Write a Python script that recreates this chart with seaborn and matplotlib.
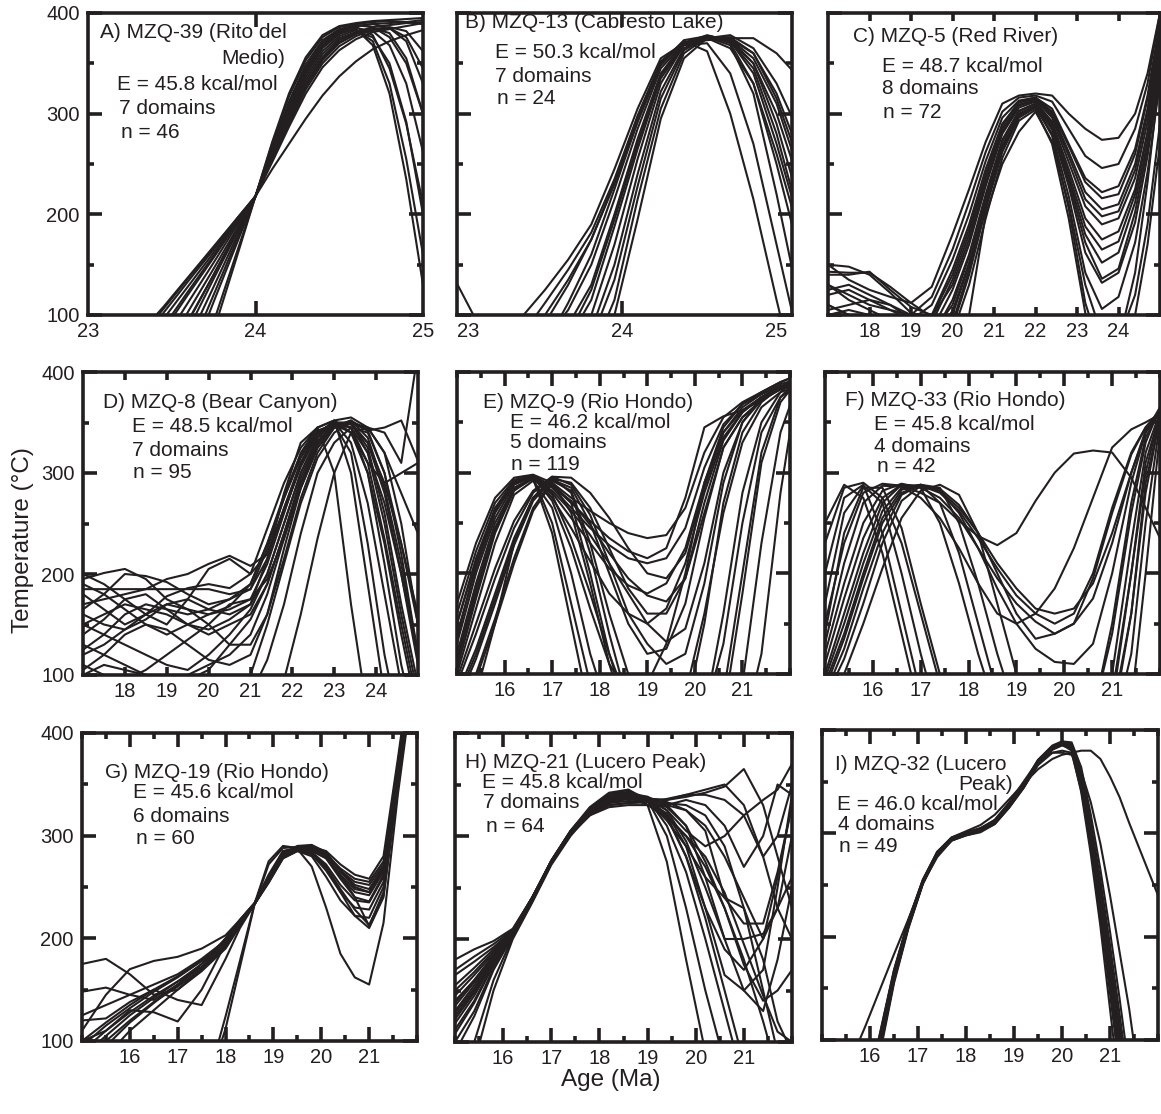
import numpy as np
import pandas as pd
import matplotlib
matplotlib.use("Agg")
import matplotlib.pyplot as plt
import seaborn as sns
from matplotlib.ticker import FixedLocator, MultipleLocator, FixedFormatter, NullFormatter

# ---------------- data ----------------
AGE_A = [23.3, 23.45, 23.6, 23.75, 23.9, 24.0, 24.1, 24.2, 24.3, 24.4, 24.5, 24.6, 24.7, 24.8, 24.9, 25.0, 25.1]
TEMP_A = [
    [0, 0, 0, 84, 164, 218, 272, 320, 356, 378, 387, 390, 392, 393, 394, 395, 396],
    [0, 0, 0, 93, 168, 218, 270, 317, 353, 376, 386, 389, 391, 392, 391, 389, 387],
    [0, 0, 49, 113, 176, 218, 266, 312, 349, 373, 384, 388, 386, 376, 350, 300, 240],
    [0, 0, 61, 120, 179, 218, 265, 310, 346, 371, 383, 386, 378, 345, 290, 210, 120],
    [0, 20, 86, 136, 185, 218, 263, 306, 342, 368, 381, 387, 389, 390, 391, 393, 395],
    [0, 47, 94, 140, 187, 218, 261, 303, 339, 365, 379, 385, 382, 368, 330, 262, 185],
    [0, 60, 104, 146, 189, 218, 259, 300, 336, 362, 377, 383, 372, 330, 255, 160, 60],
    [0, 74, 113, 152, 192, 218, 258, 298, 333, 359, 375, 381, 376, 350, 292, 200, 100],
    [20, 84, 121, 157, 194, 218, 256, 295, 330, 356, 373, 381, 386, 388, 390, 391, 392],
    [62, 96, 129, 162, 196, 218, 255, 293, 327, 353, 370, 379, 384, 386, 382, 362, 325],
    [70, 102, 134, 165, 197, 218, 254, 290, 324, 350, 367, 377, 383, 385, 376, 345, 295],
    [76, 106, 137, 167, 198, 218, 252, 287, 320, 346, 363, 374, 381, 384, 387, 390, 392],
    [80, 108, 138, 168, 198, 218, 245, 270, 295, 318, 337, 352, 364, 372, 378, 383, 387],
    [0, 40, 95, 140, 187, 218, 262, 305, 341, 367, 380, 384, 368, 320, 235, 130, 30],
    [0, 10, 75, 128, 182, 218, 264, 308, 344, 370, 382, 387, 389, 385, 372, 330, 270],
    [30, 88, 124, 159, 195, 218, 256, 294, 328, 354, 371, 380, 385, 380, 355, 300, 220],
]

AGE_B = [22.9, 23.05, 23.2, 23.35, 23.5, 23.65, 23.8, 23.95, 24.1, 24.25, 24.4, 24.55, 24.7, 24.85, 25.0, 25.15]
TEMP_B = [
    [140, 96, 80, 98, 125, 155, 190, 245, 305, 355, 370, 373, 375, 375, 360, 335],
    [0, 0, 0, 80, 112, 145, 182, 235, 298, 352, 371, 376, 372, 350, 300, 230],
    [0, 0, 0, 60, 92, 130, 175, 232, 297, 350, 370, 375, 365, 330, 260, 180],
    [0, 0, 0, 30, 75, 105, 150, 215, 285, 345, 370, 377, 374, 360, 320, 260],
    [0, 0, 0, 0, 50, 90, 130, 200, 275, 340, 370, 378, 372, 340, 270, 190],
    [0, 0, 0, 0, 30, 60, 100, 170, 255, 330, 368, 377, 370, 330, 250, 160],
    [0, 0, 0, 0, 20, 50, 85, 150, 240, 322, 365, 376, 376, 360, 315, 250],
    [0, 0, 0, 0, 0, 30, 60, 115, 215, 305, 360, 376, 368, 320, 220, 110],
    [0, 0, 0, 0, 0, 20, 50, 100, 195, 295, 355, 375, 378, 365, 330, 280],
    [0, 0, 0, 50, 70, 112, 160, 225, 292, 348, 372, 362, 300, 215, 115, 20],
    [0, 0, 0, 20, 50, 75, 115, 188, 265, 335, 368, 370, 340, 270, 170, 70],
    [0, 0, 0, 70, 100, 135, 175, 230, 292, 350, 373, 377, 374, 355, 310, 240],
    [0, 0, 0, 0, 40, 80, 125, 195, 270, 338, 369, 377, 374, 350, 290, 210],
    [0, 0, 0, 0, 10, 40, 75, 135, 228, 315, 363, 376, 372, 345, 280, 195],
]

AGE_C = [17.0, 17.5, 18.0, 18.5, 19.0, 19.5, 20.0, 20.4, 20.8, 21.2, 21.6, 22.0, 22.4, 22.8, 23.2, 23.6, 24.0, 24.4, 24.7, 25.0]
TEMP_C = [
    [150, 135, 125, 118, 112, 128, 180, 225, 272, 310, 318, 320, 318, 300, 285, 274, 276, 300, 340, 400],
    [130, 120, 110, 105, 100, 118, 165, 212, 262, 302, 316, 318, 312, 285, 258, 246, 250, 285, 330, 400],
    [110, 100, 95, 100, 95, 110, 155, 200, 253, 296, 313, 316, 305, 270, 236, 222, 228, 265, 318, 392],
    [140, 140, 143, 125, 108, 100, 145, 190, 245, 290, 311, 315, 300, 262, 222, 205, 210, 250, 305, 382],
    [100, 90, 90, 95, 82, 92, 135, 180, 237, 285, 309, 314, 296, 252, 208, 190, 196, 236, 292, 372],
    [120, 125, 115, 105, 95, 85, 125, 170, 228, 280, 306, 312, 292, 245, 196, 175, 183, 225, 282, 362],
    [100, 105, 100, 90, 82, 78, 115, 160, 220, 274, 303, 310, 288, 236, 180, 152, 162, 212, 272, 352],
    [130, 115, 105, 95, 85, 72, 100, 150, 212, 268, 300, 308, 284, 228, 162, 132, 142, 192, 258, 342],
    [110, 100, 90, 85, 75, 62, 88, 140, 205, 262, 296, 306, 280, 218, 142, 106, 118, 172, 242, 332],
    [90, 85, 80, 75, 70, 60, 70, 100, 200, 250, 282, 302, 272, 210, 130, 80, 75, 120, 190, 290],
    [100, 95, 90, 85, 80, 72, 92, 145, 208, 265, 298, 307, 278, 206, 112, 60, 72, 142, 232, 342],
    [95, 90, 85, 80, 75, 66, 82, 130, 196, 256, 293, 304, 270, 196, 102, 40, 50, 100, 170, 270],
    [150, 148, 140, 122, 102, 98, 140, 185, 240, 288, 312, 316, 302, 268, 232, 216, 220, 260, 315, 386],
    [105, 110, 115, 110, 100, 82, 110, 158, 216, 272, 302, 310, 290, 240, 188, 165, 173, 220, 280, 366],
    [125, 130, 120, 110, 96, 76, 104, 152, 210, 266, 299, 308, 286, 232, 172, 136, 146, 202, 266, 350],
    [143, 142, 142, 128, 112, 98, 130, 175, 232, 282, 308, 313, 298, 258, 215, 198, 203, 244, 300, 378],
]

AGE_D = [17.0, 17.5, 18.0, 18.5, 19.0, 19.5, 20.0, 20.5, 21.0, 21.4, 21.8, 22.2, 22.6, 23.0, 23.4, 23.8, 24.2, 24.6, 25.0]
TEMP_D = [
    [195, 201, 205, 195, 175, 165, 160, 168, 190, 230, 275, 315, 340, 350, 345, 320, 270, 200, 120],
    [180, 165, 150, 160, 178, 186, 190, 186, 200, 245, 290, 325, 345, 352, 340, 300, 230, 140, 60],
    [150, 140, 130, 120, 110, 105, 120, 140, 165, 200, 250, 300, 335, 350, 348, 330, 290, 230, 160],
    [120, 130, 145, 160, 170, 165, 150, 130, 130, 160, 215, 275, 320, 345, 350, 320, 250, 160, 80],
    [100, 110, 105, 100, 95, 100, 110, 120, 140, 180, 235, 290, 330, 348, 345, 310, 235, 150, 70],
    [170, 175, 180, 185, 195, 200, 210, 218, 208, 220, 262, 306, 338, 352, 355, 345, 320, 280, 240],
    [130, 120, 110, 100, 90, 95, 105, 130, 155, 190, 240, 290, 328, 346, 352, 335, 285, 210, 120],
    [190, 180, 165, 150, 140, 150, 160, 165, 175, 210, 260, 310, 340, 350, 330, 270, 180, 90, 40],
    [140, 155, 175, 180, 165, 150, 140, 150, 160, 190, 240, 295, 332, 348, 350, 342, 345, 352, 312],
    [110, 100, 95, 105, 120, 135, 150, 170, 175, 195, 235, 285, 325, 345, 352, 342, 300, 230, 150],
    [100, 95, 90, 85, 80, 75, 70, 75, 100, 150, 210, 270, 315, 340, 350, 330, 280, 200, 110],
    [90, 85, 80, 75, 70, 70, 70, 70, 80, 115, 170, 240, 300, 330, 345, 340, 300, 220, 120],
    [160, 150, 145, 155, 170, 175, 165, 160, 170, 200, 250, 300, 335, 350, 345, 300, 210, 110, 40],
    [125, 140, 160, 170, 165, 160, 165, 175, 185, 215, 265, 310, 340, 350, 350, 345, 340, 310, 420],
    [200, 190, 175, 160, 150, 175, 205, 215, 200, 220, 265, 310, 338, 348, 340, 310, 290, 300, 310],
    [105, 120, 140, 150, 145, 130, 115, 110, 120, 160, 225, 285, 325, 345, 350, 325, 260, 170, 90],
    [150, 160, 170, 165, 160, 150, 145, 155, 170, 215, 280, 330, 345, 300, 170, 60, 40, 40, 40],
    [100, 90, 85, 80, 75, 70, 70, 70, 70, 75, 95, 160, 235, 300, 340, 345, 320, 250, 150],
    [185, 185, 185, 185, 185, 185, 185, 180, 185, 225, 275, 320, 345, 352, 300, 190, 80, 40, 40],
    [165, 180, 200, 198, 192, 180, 170, 175, 190, 230, 278, 318, 342, 348, 320, 230, 120, 40, 40],
]

AGE_E = [15.0, 15.4, 15.8, 16.2, 16.6, 17.0, 17.4, 17.8, 18.2, 18.6, 19.0, 19.4, 19.8, 20.2, 20.6, 21.0, 21.4, 21.8, 22.1]
TEMP_E = [
    [170, 230, 275, 295, 298, 290, 275, 262, 250, 240, 235, 238, 265, 320, 355, 370, 380, 390, 395],
    [150, 215, 265, 292, 297, 285, 265, 245, 228, 215, 210, 215, 245, 305, 348, 368, 378, 388, 392],
    [130, 200, 255, 288, 296, 280, 255, 230, 205, 188, 180, 190, 225, 290, 340, 362, 375, 385, 390],
    [115, 185, 245, 285, 295, 275, 245, 212, 180, 160, 150, 165, 210, 280, 335, 360, 375, 383, 388],
    [140, 205, 260, 290, 295, 250, 170, 90, 40, 40, 40, 40, 60, 150, 270, 340, 370, 385, 390],
    [120, 190, 250, 285, 294, 240, 150, 60, 30, 30, 30, 30, 30, 60, 160, 280, 350, 380, 392],
    [100, 165, 230, 278, 292, 265, 200, 120, 60, 40, 40, 40, 40, 40, 80, 200, 320, 375, 390],
    [90, 140, 195, 245, 280, 296, 295, 280, 255, 225, 200, 195, 220, 285, 340, 365, 378, 386, 390],
    [80, 125, 180, 235, 275, 294, 290, 265, 225, 185, 160, 160, 195, 270, 332, 360, 375, 385, 388],
    [70, 115, 170, 228, 272, 293, 285, 250, 200, 150, 120, 125, 170, 255, 325, 355, 372, 383, 386],
    [60, 100, 155, 215, 265, 292, 282, 230, 160, 100, 70, 60, 80, 160, 260, 330, 365, 380, 385],
    [60, 95, 150, 210, 262, 290, 270, 200, 120, 60, 40, 40, 40, 60, 130, 250, 340, 375, 385],
    [40, 80, 150, 230, 275, 290, 260, 190, 110, 50, 40, 40, 40, 40, 40, 90, 230, 340, 380],
    [105, 175, 240, 282, 295, 282, 262, 238, 210, 180, 150, 132, 145, 210, 300, 350, 372, 383, 388],
    [135, 210, 262, 290, 296, 278, 235, 180, 120, 70, 40, 40, 40, 40, 40, 40, 120, 280, 370],
    [160, 222, 270, 293, 297, 287, 270, 252, 235, 222, 215, 225, 275, 345, 356, 362, 372, 385, 392],
    [110, 180, 242, 283, 294, 286, 272, 248, 220, 195, 178, 172, 195, 260, 325, 355, 372, 383, 388],
    [75, 120, 175, 232, 275, 295, 280, 220, 140, 70, 40, 40, 40, 40, 60, 180, 310, 370, 388],
    [150, 212, 262, 290, 296, 272, 225, 165, 110, 80, 90, 130, 200, 290, 345, 368, 380, 390, 396],
    [95, 150, 205, 252, 282, 296, 288, 258, 210, 160, 130, 110, 120, 190, 290, 350, 375, 386, 390],
]

AGE_F = [15.0, 15.4, 15.8, 16.2, 16.6, 17.0, 17.4, 17.8, 18.2, 18.6, 19.0, 19.4, 19.8, 20.2, 20.6, 21.0, 21.4, 21.7, 22.0]
TEMP_F = [
    [200, 275, 288, 240, 160, 80, 40, 40, 40, 40, 40, 40, 40, 40, 40, 80, 200, 300, 360],
    [170, 260, 287, 270, 200, 120, 50, 40, 40, 40, 40, 40, 40, 40, 40, 60, 160, 280, 355],
    [140, 240, 285, 285, 245, 170, 100, 40, 40, 40, 40, 40, 40, 40, 60, 140, 260, 330, 365],
    [230, 285, 290, 275, 230, 160, 90, 40, 40, 40, 40, 40, 40, 40, 40, 40, 120, 250, 350],
    [100, 160, 220, 270, 288, 285, 250, 190, 120, 60, 40, 40, 40, 40, 60, 150, 270, 335, 362],
    [90, 140, 200, 255, 283, 288, 270, 220, 150, 80, 40, 40, 40, 40, 40, 100, 230, 320, 360],
    [80, 125, 185, 240, 278, 288, 285, 250, 190, 120, 60, 40, 40, 40, 40, 70, 200, 310, 358],
    [110, 175, 235, 275, 288, 287, 280, 262, 235, 205, 178, 160, 150, 160, 200, 265, 320, 345, 360],
    [120, 190, 250, 282, 289, 285, 275, 255, 225, 195, 170, 152, 140, 150, 195, 260, 318, 345, 362],
    [95, 150, 210, 262, 285, 288, 282, 265, 240, 210, 185, 165, 160, 165, 190, 240, 300, 340, 360],
    [85, 135, 195, 250, 280, 287, 282, 260, 225, 185, 150, 125, 112, 110, 130, 200, 290, 340, 365],
    [150, 230, 280, 289, 287, 280, 270, 252, 237, 228, 240, 272, 300, 319, 322, 320, 295, 265, 235],
    [130, 210, 270, 287, 286, 275, 255, 225, 190, 160, 150, 160, 185, 225, 275, 325, 343, 350, 358],
    [75, 115, 170, 230, 272, 287, 284, 268, 240, 200, 160, 135, 140, 150, 175, 230, 300, 342, 360],
    [250, 288, 275, 220, 140, 60, 40, 40, 40, 40, 40, 40, 40, 40, 40, 40, 70, 200, 340],
    [60, 100, 150, 205, 255, 282, 288, 278, 240, 170, 100, 40, 40, 40, 40, 50, 160, 290, 355],
]

AGE_G = [15.0, 15.5, 16.0, 16.5, 17.0, 17.5, 18.0, 18.3, 18.6, 18.9, 19.2, 19.5, 19.8, 20.1, 20.4, 20.7, 21.0, 21.3, 21.6, 21.9]
TEMP_G = [
    [175, 180, 165, 145, 150, 170, 200, 218, 234, 262, 285, 288, 287, 282, 268, 258, 255, 275, 370, 470],
    [148, 152, 145, 140, 155, 175, 200, 218, 234, 260, 283, 287, 289, 285, 272, 262, 258, 280, 375, 475],
    [125, 135, 145, 155, 165, 180, 198, 216, 233, 258, 282, 288, 290, 283, 266, 252, 248, 270, 368, 468],
    [100, 118, 135, 150, 163, 178, 196, 215, 233, 257, 281, 287, 286, 278, 260, 245, 242, 265, 362, 462],
    [85, 105, 125, 142, 158, 175, 194, 214, 233, 256, 280, 286, 284, 272, 252, 237, 235, 260, 358, 458],
    [70, 95, 118, 137, 155, 172, 192, 213, 233, 255, 279, 286, 282, 266, 245, 230, 228, 255, 355, 455],
    [60, 85, 110, 130, 150, 168, 190, 212, 233, 254, 278, 285, 280, 260, 237, 222, 220, 250, 350, 450],
    [95, 115, 132, 148, 162, 178, 196, 215, 233, 260, 285, 287, 270, 230, 185, 162, 155, 215, 340, 445],
    [40, 40, 40, 40, 40, 40, 124, 178, 233, 275, 290, 288, 285, 278, 258, 240, 236, 262, 362, 462],
    [40, 40, 40, 40, 40, 40, 112, 172, 232, 272, 288, 289, 288, 280, 262, 248, 245, 268, 366, 466],
    [100, 110, 130, 128, 119, 150, 195, 214, 233, 258, 283, 290, 291, 284, 265, 250, 245, 268, 365, 465],
    [110, 145, 170, 178, 182, 190, 203, 218, 234, 259, 282, 287, 287, 280, 262, 240, 212, 245, 352, 452],
    [80, 100, 120, 138, 153, 170, 192, 213, 233, 256, 280, 286, 282, 268, 245, 222, 210, 240, 348, 448],
    [90, 110, 128, 144, 158, 172, 193, 214, 233, 255, 278, 285, 283, 270, 248, 228, 213, 242, 350, 450],
    [120, 122, 138, 150, 140, 135, 180, 210, 233, 257, 281, 288, 290, 282, 266, 255, 252, 272, 370, 470],
]

AGE_H = [15.0, 15.4, 15.8, 16.2, 16.6, 17.0, 17.4, 17.8, 18.2, 18.6, 19.0, 19.4, 19.8, 20.2, 20.6, 21.0, 21.4, 21.7, 22.0]
TEMP_H = [
    [180, 190, 198, 210, 240, 275, 303, 325, 338, 342, 338, 320, 280, 220, 150, 80, 40, 40, 40],
    [165, 178, 192, 208, 240, 275, 303, 325, 340, 345, 335, 300, 230, 150, 80, 40, 40, 40, 40],
    [150, 168, 188, 207, 240, 276, 305, 328, 342, 345, 330, 275, 180, 90, 40, 40, 40, 40, 40],
    [140, 160, 184, 206, 239, 276, 305, 326, 338, 338, 330, 318, 300, 270, 230, 180, 120, 70, 40],
    [125, 150, 180, 205, 238, 275, 304, 324, 334, 336, 336, 335, 338, 342, 348, 365, 330, 280, 230],
    [112, 140, 176, 204, 238, 275, 303, 322, 330, 332, 333, 336, 340, 340, 335, 320, 280, 230, 200],
    [100, 130, 172, 203, 237, 274, 302, 320, 328, 330, 330, 330, 325, 310, 280, 240, 200, 230, 300],
    [60, 100, 160, 202, 236, 273, 301, 320, 332, 337, 337, 325, 295, 250, 200, 150, 130, 180, 250],
    [40, 80, 150, 200, 235, 272, 300, 322, 336, 340, 338, 330, 310, 275, 230, 175, 140, 150, 170],
    [170, 183, 195, 209, 240, 275, 304, 326, 340, 343, 336, 310, 265, 200, 130, 60, 40, 40, 40],
    [130, 155, 182, 206, 239, 276, 304, 326, 338, 340, 336, 325, 305, 290, 300, 320, 335, 345, 370],
    [118, 145, 178, 205, 238, 275, 303, 323, 332, 334, 333, 318, 280, 230, 190, 170, 200, 260, 330],
    [155, 172, 190, 208, 240, 276, 305, 327, 340, 342, 334, 315, 290, 260, 240, 230, 180, 120, 90],
    [90, 125, 170, 203, 237, 274, 302, 321, 330, 332, 333, 332, 330, 320, 290, 230, 150, 90, 60],
    [145, 165, 186, 207, 239, 275, 304, 325, 337, 339, 335, 320, 300, 280, 245, 195, 145, 110, 100],
    [135, 158, 183, 206, 238, 275, 304, 326, 336, 338, 337, 333, 325, 305, 240, 215, 215, 265, 330],
    [128, 152, 181, 205, 238, 275, 304, 325, 336, 339, 336, 335, 340, 345, 350, 330, 280, 300, 350],
    [122, 148, 179, 205, 238, 275, 303, 324, 335, 337, 334, 328, 310, 260, 200, 200, 205, 230, 260],
    [108, 138, 175, 204, 237, 274, 302, 322, 333, 336, 333, 322, 290, 230, 165, 150, 170, 250, 340],
    [138, 160, 184, 206, 239, 275, 304, 326, 337, 340, 336, 330, 335, 330, 310, 270, 300, 350, 340],
]

AGE_I = [15.6, 15.9, 16.2, 16.5, 16.8, 17.1, 17.4, 17.7, 18.0, 18.3, 18.6, 18.9, 19.2, 19.5, 19.8, 20.0, 20.2, 20.4, 20.6, 20.8, 21.0, 21.2, 21.4, 21.7, 22.0]
TEMP_I = [
    [0, 40, 90, 158, 210, 252, 280, 294, 299, 302, 310, 326, 345, 368, 382, 386, 380, 340, 280, 210, 130, 50, 0, 0, 0],
    [0, 40, 95, 162, 212, 253, 281, 295, 300, 303, 311, 327, 346, 369, 383, 387, 384, 348, 292, 228, 155, 80, 10, 0, 0],
    [0, 40, 100, 165, 214, 254, 281, 294, 299, 303, 311, 327, 346, 370, 384, 388, 386, 355, 302, 242, 175, 105, 35, 0, 0],
    [0, 30, 85, 155, 208, 251, 279, 293, 298, 301, 309, 325, 344, 367, 381, 385, 382, 344, 287, 220, 145, 70, 0, 0, 0],
    [0, 45, 105, 168, 216, 255, 282, 295, 300, 304, 312, 328, 347, 371, 384, 388, 387, 360, 310, 255, 192, 125, 55, 0, 0],
    [80, 113, 148, 183, 217, 252, 277, 293, 300, 305, 312, 327, 345, 366, 378, 380, 378, 342, 290, 235, 170, 110, 50, 0, 0],
    [0, 30, 90, 158, 210, 252, 282, 296, 302, 308, 318, 333, 348, 362, 372, 376, 378, 380, 380, 372, 355, 335, 310, 275, 240],
    [0, 40, 98, 163, 213, 253, 281, 295, 300, 304, 313, 330, 350, 370, 378, 378, 376, 360, 330, 290, 240, 185, 130, 30, 0],
    [0, 40, 92, 160, 211, 252, 280, 294, 299, 302, 310, 326, 345, 368, 383, 387, 385, 352, 298, 236, 165, 92, 20, 0, 0],
    [0, 40, 97, 163, 213, 253, 280, 294, 299, 303, 310, 326, 346, 369, 383, 387, 385, 350, 295, 232, 160, 88, 15, 0, 0],
    [0, 42, 102, 166, 215, 254, 281, 295, 300, 303, 311, 327, 346, 370, 384, 388, 386, 357, 305, 248, 182, 115, 45, 0, 0],
    [0, 35, 88, 157, 209, 251, 279, 293, 298, 302, 309, 325, 344, 367, 381, 386, 383, 346, 290, 225, 150, 75, 5, 0, 0],
    [0, 44, 104, 167, 215, 255, 282, 296, 301, 305, 313, 329, 348, 371, 385, 389, 388, 364, 318, 265, 205, 140, 70, 0, 0],
    [0, 38, 93, 160, 211, 252, 280, 294, 299, 302, 310, 326, 345, 368, 382, 386, 384, 353, 300, 240, 170, 100, 28, 0, 0],
]

NOTES_A = ["A) MZQ-39 (Rito del", "Medio)", "E = 45.8 kcal/mol", "7 domains", "n = 46"]
NOTES_B = ["B) MZQ-13 (Cabresto Lake)", "E = 50.3 kcal/mol", "7 domains", "n = 24"]
NOTES_C = ["C) MZQ-5 (Red River)", "E = 48.7 kcal/mol", "8 domains", "n = 72"]
NOTES_D = ["D) MZQ-8 (Bear Canyon)", "E = 48.5 kcal/mol", "7 domains", "n = 95"]
NOTES_E = ["E) MZQ-9 (Rio Hondo)", "E = 46.2 kcal/mol", "5 domains", "n = 119"]
NOTES_F = ["F) MZQ-33 (Rio Hondo)", "E = 45.8 kcal/mol", "4 domains", "n = 42"]
NOTES_G = ["G) MZQ-19 (Rio Hondo)", "E = 45.6 kcal/mol", "6 domains", "n = 60"]
NOTES_H = ["H) MZQ-21 (Lucero Peak)", "E = 45.8 kcal/mol", "7 domains", "n = 64"]
NOTES_I = ["I) MZQ-32 (Lucero", "Peak)", "E = 46.0 kcal/mol", "4 domains", "n = 49"]

XTICKS_AB = [24]
XEDGE_AB = [23, 25]
XTICKS_CD = [18, 19, 20, 21, 22, 23, 24]
XTICKS_EI = [16, 17, 18, 19, 20, 21]
YTICKS = [100, 200, 300, 400]
Y_LABEL = "Temperature (°C)"
X_LABEL = "Age (Ma)"

# ---------------- layout (pixels) ----------------
W, H = 1161, 1114
INK = "#231f20"

sns.set_style("ticks")
plt.rcParams['font.family'] = ['Liberation Sans', 'DejaVu Sans']

fig = plt.figure(figsize=(W / 100, H / 100), dpi=100)

# (ages, temps, box(l,t,r,b), xlim, xticks, minor, major_len, show y labels, notes, note positions)
PANELS = [
    (AGE_A, TEMP_A, (88, 13, 423, 315), (23.0, 25.0), XTICKS_AB, 'edge', 10, True,
     NOTES_A, [(100, 33, 'left'), (285, 58, 'right'), (117, 85, 'left'), (119, 108, 'left'), (121, 132, 'left')]),
    (AGE_B, TEMP_B, (457, 13, 792, 315), (22.93, 25.1), XTICKS_AB, 'edge', 10, False,
     NOTES_B, [(465, 22, 'left'), (495, 53, 'left'), (495, 77, 'left'), (497, 98, 'left')]),
    (AGE_C, TEMP_C, (828, 13, 1160, 315), (17.0, 25.0), XTICKS_CD, None, 6, False,
     NOTES_C, [(853, 37, 'left'), (882, 67, 'left'), (882, 88, 'left'), (883, 112, 'left')]),
    (AGE_D, TEMP_D, (83, 372, 418, 675), (17.0, 25.0), XTICKS_CD, None, 6, True,
     NOTES_D, [(103, 403, 'left'), (132, 427, 'left'), (132, 450, 'left'), (133, 473, 'left')]),
    (AGE_E, TEMP_E, (457, 372, 790, 674), (15.0, 22.0), XTICKS_EI, 0.5, 10, False,
     NOTES_E, [(483, 402, 'left'), (510, 423, 'left'), (510, 443, 'left'), (511, 465, 'left')]),
    (AGE_F, TEMP_F, (825, 372, 1160, 674), (15.0, 22.0), XTICKS_EI, 0.5, 10, False,
     NOTES_F, [(845, 400, 'left'), (874, 425, 'left'), (874, 446, 'left'), (877, 467, 'left')]),
    (AGE_G, TEMP_G, (82, 733, 417, 1041), (15.0, 22.0), XTICKS_EI, 0.5, 10, True,
     NOTES_G, [(105, 772, 'left'), (133, 793, 'left'), (133, 817, 'left'), (136, 838, 'left')]),
    (AGE_H, TEMP_H, (455, 733, 792, 1042), (15.0, 22.0), XTICKS_EI, 0.5, 10, False,
     NOTES_H, [(465, 762, 'left'), (482, 782, 'left'), (483, 803, 'left'), (486, 827, 'left')]),
    (AGE_I, TEMP_I, (822, 730, 1158, 1040), (15.0, 22.0), XTICKS_EI, 0.5, 10, False,
     NOTES_I, [(835, 765, 'left'), (1013, 785, 'right'), (837, 804, 'left'), (838, 825, 'left'), (839, 846, 'left')]),
]

for ages, temps, box, xlim, xt, minor, mlen, ylab, notes, npos in PANELS:
    l, t, r, b = box
    ax = fig.add_axes([l / W, 1 - b / H, (r - l) / W, (b - t) / H])
    n = len(temps)
    df = pd.DataFrame({
        "age": np.tile(np.asarray(ages, float), n),
        "temp": np.concatenate([np.asarray(c, float) for c in temps]),
        "curve": np.repeat(np.arange(n), len(ages)),
    })
    sns.lineplot(data=df, x="age", y="temp", units="curve", estimator=None,
                 color=INK, linewidth=1.5, ax=ax, legend=False, sort=False)
    ax.set_xlim(*xlim)
    ax.set_ylim(100, 400)
    ax.set_xlabel("")
    ax.set_ylabel("")
    ax.xaxis.set_major_locator(FixedLocator(xt))
    ax.xaxis.set_major_formatter(FixedFormatter([str(v) for v in xt]))
    for s in ax.spines.values():
        s.set_linewidth(2.6)
        s.set_color(INK)
        s.set_visible(True)
    ax.tick_params(which='both', direction='in', top=True, right=True,
                   color=INK, width=2.6, labelcolor=INK)
    ax.tick_params(axis='x', which='both', labelsize=14.5, pad=5)
    ax.tick_params(axis='x', which='major', length=mlen)
    if minor == 'edge':
        # end labels sit on the frame corners: labelled, but without tick marks
        ax.xaxis.set_minor_locator(FixedLocator(XEDGE_AB))
        ax.xaxis.set_minor_formatter(FixedFormatter([str(v) for v in XEDGE_AB]))
        ax.tick_params(axis='x', which='minor', length=0)
    elif minor:
        ax.xaxis.set_minor_locator(MultipleLocator(minor))
        ax.xaxis.set_minor_formatter(NullFormatter())
        ax.tick_params(axis='x', which='minor', length=4.5)
    ax.yaxis.set_major_locator(FixedLocator(YTICKS))
    ax.yaxis.set_minor_locator(MultipleLocator(50))
    ax.tick_params(axis='y', which='major', length=10, labelsize=14.5, pad=6)
    ax.tick_params(axis='y', which='minor', length=4.5)
    if ylab:
        ax.yaxis.set_major_formatter(FixedFormatter([str(v) for v in YTICKS]))
    else:
        ax.yaxis.set_major_formatter(NullFormatter())
    for txt, (px, py, ha) in zip(notes, npos):
        fig.text(px / W, 1 - py / H, txt, ha=ha, va='center', fontsize=15, color=INK)

fig.text(23 / W, 1 - 540 / H, Y_LABEL, rotation=90, ha='center', va='center',
         fontsize=17.5, color=INK)
fig.text(611 / W, 1 - 1080 / H, X_LABEL, ha='center', va='center',
         fontsize=17.5, color=INK)

fig.savefig("out.png", dpi=100, facecolor="white")
